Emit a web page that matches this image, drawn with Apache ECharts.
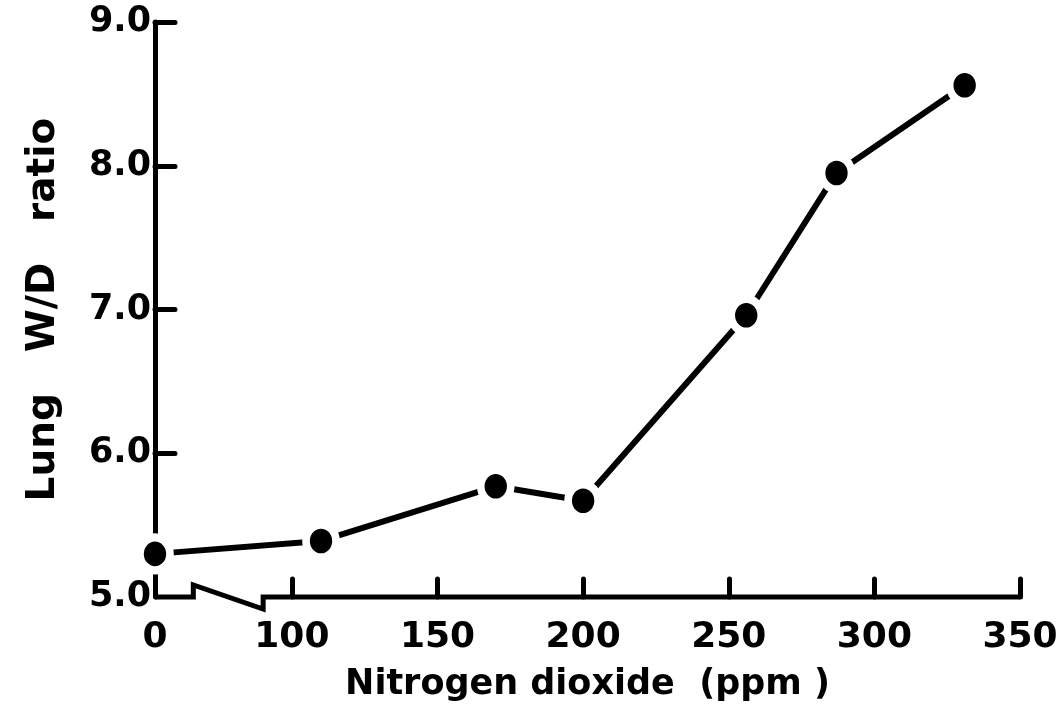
<!DOCTYPE html>
<html>
<head>
<meta charset="utf-8">
<script src="https://cdn.jsdelivr.net/npm/echarts@6/dist/echarts.min.js"></script>
<style>
  html, body { margin: 0; padding: 0; background: #fff; }
  #chart { width: 1061px; height: 714px; }
</style>
</head>
<body>
<div id="chart"></div>
<script>
// readings
const nitrogenPpm = [0, 110, 170, 200, 256, 287, 331]
const lungWD = [5.30, 5.39, 5.77, 5.67, 6.96, 7.95, 8.56]
const xTickValues = [0, 100, 150, 200, 250, 300, 350]
const yTickValues = [5, 6, 7, 8, 9]

// the x axis is broken between 0 and 100 ppm: that stretch is squeezed
const BREAK_TO = 100
const SQUEEZED_START = 53
const BREAK_KINKS = [28, 79]

function toAxis(x) {
  return x >= BREAK_TO ? x : SQUEEZED_START + x * (BREAK_TO - SQUEEZED_START) / BREAK_TO
}
function fromAxis(v) {
  return v >= BREAK_TO ? v : (v - SQUEEZED_START) * BREAK_TO / (BREAK_TO - SQUEEZED_START)
}

const FONT = 'DejaVu Sans'
const INK = '#000'

const chart = echarts.init(document.getElementById('chart'))

chart.setOption({
  animation: false,
  backgroundColor: '#fff',
  grid: { left: 155, right: 41, top: 22, bottom: 117 },
  xAxis: {
    type: 'value',
    min: toAxis(xTickValues[0]),
    max: xTickValues[xTickValues.length - 1],
    splitLine: { show: false },
    axisLine: { show: false },
    axisTick: {
      show: true,
      inside: true,
      length: 18,
      lineStyle: { color: INK, width: 5, cap: 'round' },
      customValues: xTickValues.filter((v) => v > 0).map(toAxis),
    },
    axisLabel: {
      customValues: xTickValues.map(toAxis),
      formatter: (v) => String(Math.round(fromAxis(v))),
      color: INK,
      fontFamily: FONT,
      fontWeight: 'bold',
      fontSize: 36,
      margin: 23,
    },
    name: 'Nitrogen dioxide  (ppm )',
    nameLocation: 'middle',
    nameGap: 70,
    nameTextStyle: { color: INK, fontFamily: FONT, fontWeight: 'bold', fontSize: 35 },
  },
  yAxis: {
    type: 'value',
    min: yTickValues[0],
    max: yTickValues[yTickValues.length - 1],
    interval: 1,
    splitLine: { show: false },
    axisLine: { show: true, lineStyle: { color: INK, width: 5 } },
    axisTick: {
      show: true,
      inside: true,
      length: 20,
      lineStyle: { color: INK, width: 5, cap: 'round' },
      customValues: yTickValues.slice(1),
    },
    axisLabel: {
      formatter: (v) => v.toFixed(1),
      color: INK,
      fontFamily: FONT,
      fontWeight: 'bold',
      fontSize: 35,
      margin: 4,
    },
    name: 'Lung   W/D   ratio',
    nameLocation: 'middle',
    nameGap: 92,
    nameTextStyle: { color: INK, fontFamily: FONT, fontWeight: 'bold', fontSize: 39 },
  },
  series: [
    {
      type: 'line',
      data: nitrogenPpm.map((x, i) => [toAxis(x), lungWD[i]]),
      clip: false,
      symbol: 'circle',
      symbolSize: [30, 33],
      itemStyle: { color: INK, borderColor: '#fff', borderWidth: 8 },
      lineStyle: { color: INK, width: 6 },
      z: 3,
    },
  ],
})

// hand-drawn style axis line with the break step
function px(x, y) {
  return chart.convertToPixel({ xAxisIndex: 0, yAxisIndex: 0 }, [x, y])
}
const y0 = yTickValues[0]
const a = px(toAxis(0), y0)
const k1 = px(toAxis(BREAK_KINKS[0]), y0)
const k2 = px(toAxis(BREAK_KINKS[1]), y0)
const b = px(xTickValues[xTickValues.length - 1], y0)
chart.setOption({
  graphic: [
    {
      type: 'polyline',
      z: 5,
      shape: {
        points: [
          a, k1, [k1[0], k1[1] - 12], [k2[0], k2[1] + 12], k2, b,
        ],
      },
      style: { stroke: INK, lineWidth: 5, fill: null, lineJoin: 'miter' },
    },
  ],
})
</script>
</body>
</html>
